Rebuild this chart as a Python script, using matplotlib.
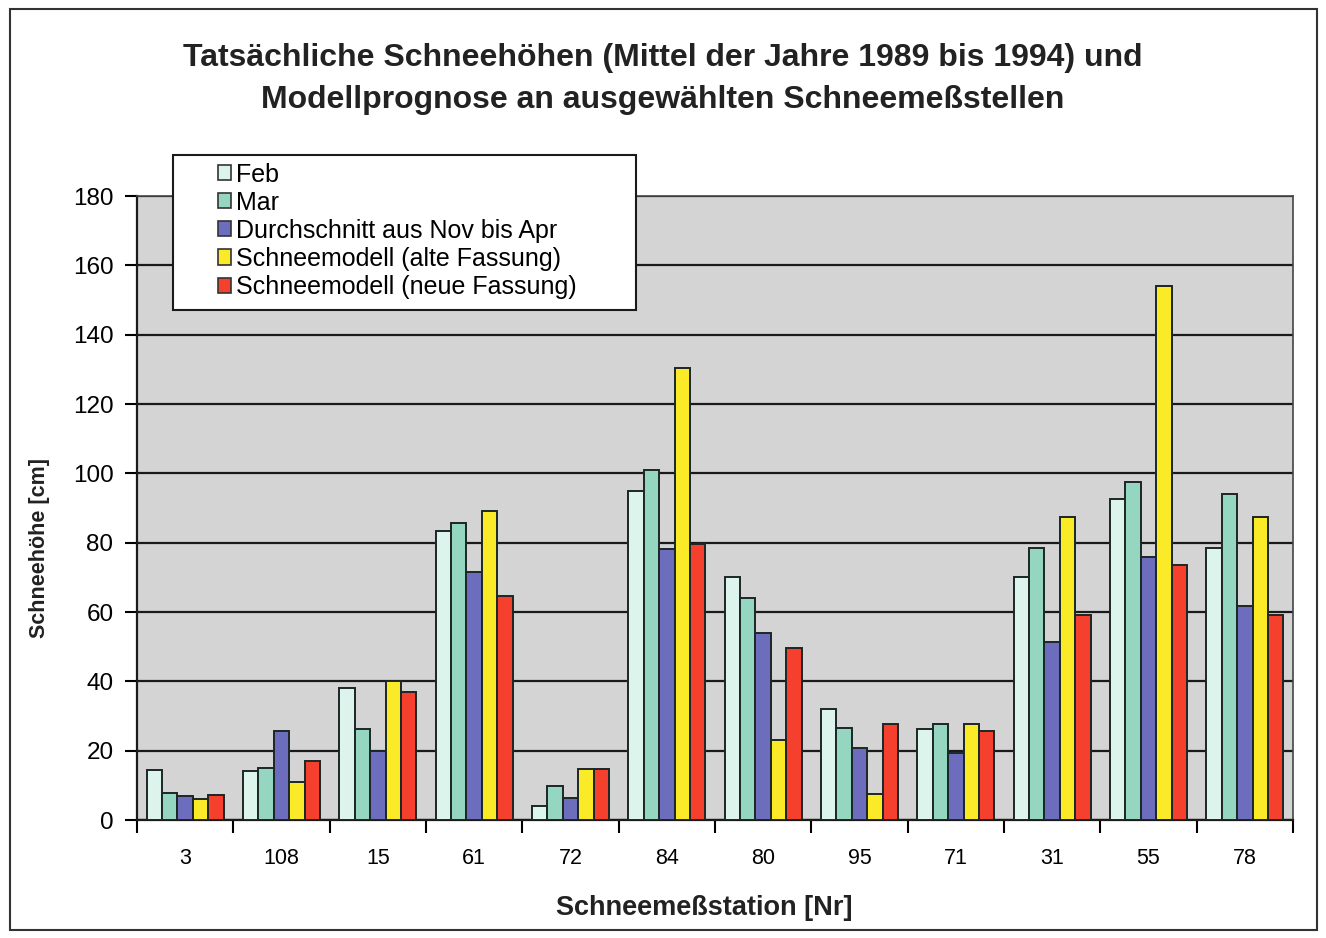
import numpy as np
import matplotlib.pyplot as plt
from matplotlib.patches import Rectangle, Patch

# station numbers along the x axis
stations = ['3', '108', '15', '61', '72', '84', '80', '95', '71', '31', '55', '78']

# snow depth in cm per station
feb = [14.3, 14, 38, 83.5, 4, 94.8, 70, 32, 26.2, 70, 92.7, 78.5]
mar = [7.7, 15, 26.3, 85.7, 9.9, 101, 64, 26.4, 27.8, 78.5, 97.4, 94]
avg_nov_apr = [7, 25.8, 19.8, 71.5, 6.3, 78.2, 54, 20.7, 19.4, 51.3, 75.8, 61.7]
model_old = [6.1, 11.1, 40, 89, 14.8, 130.3, 23, 7.6, 27.8, 87.5, 154, 87.5]
model_new = [7.1, 17.1, 37, 64.6, 14.8, 79.6, 49.7, 27.8, 25.7, 59.2, 73.7, 59.2]

series = [feb, mar, avg_nov_apr, model_old, model_new]
labels = ['Feb', 'Mar', 'Durchschnitt aus Nov bis Apr',
          'Schneemodell (alte Fassung)', 'Schneemodell (neue Fassung)']
colors = ['#dcf4ec', '#94d6bf', '#6d6dbd', '#fbea28', '#f4402c']

W, H = 1326, 938
fig = plt.figure(figsize=(W / 100, H / 100), dpi=100)
fig.patch.set_facecolor('white')

font = ['Liberation Sans', 'DejaVu Sans']

# outer frame of the chart
fig.patches.append(Rectangle((10 / W, 1 - 930 / H), 1307 / W, 921 / H,
                             transform=fig.transFigure, fill=False,
                             edgecolor='#333333', linewidth=1.5))

ax = fig.add_axes([137 / W, 1 - 820 / H, 1156 / W, 624 / H])
ax.set_facecolor('#d4d4d4')

x = np.arange(len(stations))
bw = 0.16
for i, (vals, col) in enumerate(zip(series, colors)):
    ax.bar(x + (i - 2) * bw, vals, width=bw, color=col,
           edgecolor='#1c2626', linewidth=1.4, zorder=3)

ax.set_xlim(-0.5, len(stations) - 0.5)
ax.set_ylim(0, 180)
ax.set_yticks(np.arange(0, 181, 20))
ax.yaxis.grid(True, color='#1a1a1a', linewidth=1.6, zorder=1)
ax.set_axisbelow(True)

ax.set_xticks(x)
ax.set_xticklabels(stations, fontsize=15.5, family=font)
ax.set_xticks(np.arange(-0.5, len(stations), 1), minor=True)
ax.tick_params(axis='x', which='major', length=0, pad=20)
ax.tick_params(axis='x', which='minor', length=9, width=1.5, direction='out')
ax.tick_params(axis='y', length=9, width=1.5, direction='out', pad=8)
for t in ax.get_yticklabels():
    t.set_fontsize(17.5)
    t.set_family(font)

for s in ['left', 'bottom']:
    ax.spines[s].set_linewidth(1.6)
    ax.spines[s].set_color('#1a1a1a')
for s in ['top', 'right']:
    ax.spines[s].set_linewidth(1.2)
    ax.spines[s].set_color('#444444')

fig.text(663 / W, 1 - 58 / H,
         'Tatsächliche Schneehöhen (Mittel der Jahre 1989 bis 1994) und',
         ha='center', va='center', fontsize=23, fontweight='bold',
         family=font, color='#222222')
fig.text(663 / W, 1 - 100 / H,
         'Modellprognose an ausgewählten Schneemeßstellen',
         ha='center', va='center', fontsize=23, fontweight='bold',
         family=font, color='#222222')

fig.text(704 / W, 1 - 908 / H, 'Schneemeßstation [Nr]', ha='center',
         va='center', fontsize=19.5, fontweight='bold', family=font,
         color='#222222')
fig.text(40 / W, 1 - 548 / H, 'Schneehöhe [cm]', ha='center', va='center',
         rotation=90, fontsize=15.5, fontweight='bold', family=font,
         color='#222222')

# legend box drawn by hand so the padding can be set freely
fig.patches.append(Rectangle((173 / W, 1 - 310 / H), 463 / W, 155 / H,
                             transform=fig.transFigure, facecolor='white',
                             edgecolor='#1a1a1a', linewidth=1.5, zorder=5))
handles = [Patch(facecolor=c, edgecolor='#333333', linewidth=1.2) for c in colors]
leg = fig.legend(handles, labels, loc='upper left',
                 bbox_to_anchor=(200 / W, 1 - 145 / H), frameon=False,
                 prop={'family': font, 'size': 18},
                 handlelength=0.55, handleheight=0.55, handletextpad=0.2,
                 labelspacing=0.165, borderpad=0.2)
leg.set_zorder(6)

fig.savefig('out.png', dpi=100)
